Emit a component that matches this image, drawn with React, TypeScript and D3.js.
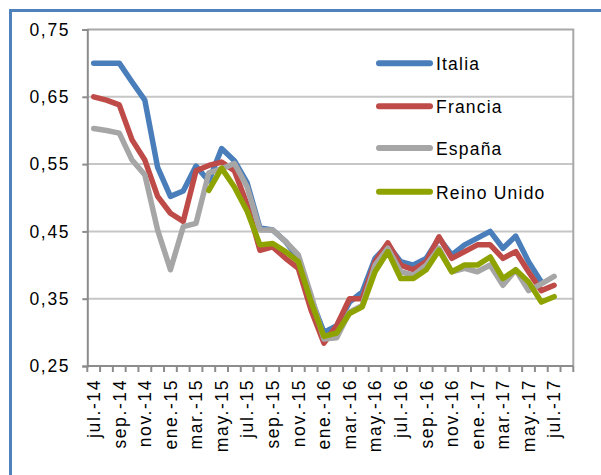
import React, { useEffect, useRef } from 'react'
import * as d3 from 'd3'

// months jul.-14 .. ago.-17 (last category is empty)
const months = [
  'jul.-14', 'ago.-14', 'sep.-14', 'oct.-14', 'nov.-14', 'dic.-14',
  'ene.-15', 'feb.-15', 'mar.-15', 'abr.-15', 'may.-15', 'jun.-15',
  'jul.-15', 'ago.-15', 'sep.-15', 'oct.-15', 'nov.-15', 'dic.-15',
  'ene.-16', 'feb.-16', 'mar.-16', 'abr.-16', 'may.-16', 'jun.-16',
  'jul.-16', 'ago.-16', 'sep.-16', 'oct.-16', 'nov.-16', 'dic.-16',
  'ene.-17', 'feb.-17', 'mar.-17', 'abr.-17', 'may.-17', 'jun.-17',
  'jul.-17', 'ago.-17',
]

const italia = [
  0.70, 0.70, 0.70, 0.672, 0.645, 0.545, 0.502, 0.51, 0.547, 0.525, 0.573, 0.555,
  0.522, 0.455, 0.452, 0.435, 0.41, 0.35, 0.30, 0.31, 0.345, 0.36,
  0.41, 0.43, 0.405, 0.40, 0.41, 0.44, 0.415, 0.43, 0.44, 0.45,
  0.425, 0.443, 0.405, 0.375, null, null,
]
const francia = [
  0.65, 0.645, 0.638, 0.586, 0.556, 0.502, 0.477, 0.465, 0.54, 0.548, 0.553, 0.54,
  0.49, 0.422, 0.427, 0.41, 0.395, 0.333, 0.284, 0.31, 0.35, 0.35,
  0.405, 0.433, 0.40, 0.393, 0.405, 0.442, 0.41, 0.42, 0.43, 0.43,
  0.41, 0.42, 0.39, 0.362, 0.37, null,
]
const espana = [
  0.603, 0.60, 0.596, 0.556, 0.534, 0.452, 0.393, 0.457, 0.462, 0.537, 0.543, 0.551,
  0.516, 0.452, 0.452, 0.435, 0.415, 0.355, 0.29, 0.292, 0.33, 0.34,
  0.40, 0.425, 0.39, 0.385, 0.40, 0.425, 0.39, 0.395, 0.39, 0.40,
  0.37, 0.393, 0.362, 0.372, 0.383, null,
]
const reinoUnido = [
  null, null, null, null, null, null, null, null, null, 0.511, 0.544, 0.516,
  0.48, 0.43, 0.432, 0.42, 0.405, 0.345, 0.294, 0.299, 0.328, 0.338,
  0.39, 0.42, 0.38, 0.38, 0.393, 0.422, 0.39, 0.40, 0.40, 0.412,
  0.38, 0.393, 0.375, 0.345, 0.353, null,
]

const seriesNames = ['Italia', 'Francia', 'España', 'Reino Unido']
const seriesColors = ['#4A7EBB', '#BE4B48', '#A6A6A6', '#8FA300']
const yTicks = [0.25, 0.35, 0.45, 0.55, 0.65, 0.75]

const App = () => {
  const ref = useRef<SVGSVGElement>(null)

  useEffect(() => {
    const svg = d3.select(ref.current)
    svg.selectAll('*').remove()

    const dims = { left: 87.3, right: 573.3, top: 29.5, bottom: 366 }
    const font = "'Liberation Sans', Arial, sans-serif"

    const x = d3.scaleBand().domain(months).range([dims.left, dims.right])
    const y = d3.scaleLinear().domain([0.25, 0.75]).range([dims.bottom, dims.top])
    const cx = (m: string) => (x(m) as number) + x.bandwidth() / 2

    // outer frame
    svg.append('rect')
      .attr('x', 10.5).attr('y', 10.5)
      .attr('width', 620).attr('height', 500)
      .attr('fill', 'white')
      .attr('stroke', '#4F81BD')
      .attr('stroke-width', 3)

    // gridlines
    svg.append('g')
      .selectAll('line')
      .data(yTicks.slice(1, -1))
      .join('line')
      .attr('x1', dims.left).attr('x2', dims.right)
      .attr('y1', d => y(d)).attr('y2', d => y(d))
      .attr('stroke', '#C6C6C6')
      .attr('stroke-width', 2)

    // plot border (top / right)
    svg.append('path')
      .attr('d', `M${dims.left},${dims.top}H${dims.right}V${dims.bottom}`)
      .attr('fill', 'none')
      .attr('stroke', '#A8A8A8')
      .attr('stroke-width', 2)

    // y axis
    const yAxis = svg.append('g')
      .attr('transform', `translate(${dims.left},0)`)
      .call(d3.axisLeft(y).tickValues(yTicks).tickSize(5).tickPadding(12)
        .tickFormat(d => d3.format('.2f')(d as number).replace('.', ',')))
    yAxis.select('.domain').attr('stroke', '#8C8C8C').attr('stroke-width', 2)
    yAxis.selectAll('.tick line').attr('stroke', '#8C8C8C').attr('stroke-width', 2)
    yAxis.selectAll('text')
      .attr('font-family', font)
      .attr('font-size', 17.5)
      .attr('letter-spacing', 1.7)
      .attr('fill', '#000')

    // x axis
    const xAxis = svg.append('g')
      .attr('transform', `translate(0,${dims.bottom})`)
    xAxis.append('line')
      .attr('x1', dims.left).attr('x2', dims.right)
      .attr('stroke', '#8C8C8C').attr('stroke-width', 2)
    const boundaries = months.map(m => x(m) as number).concat([dims.right])
    xAxis.selectAll('line.tk')
      .data(boundaries)
      .join('line')
      .attr('class', 'tk')
      .attr('x1', d => d).attr('x2', d => d)
      .attr('y1', 0).attr('y2', 6)
      .attr('stroke', '#8C8C8C').attr('stroke-width', 2)
    xAxis.selectAll('text')
      .data(months.filter((_, i) => i % 2 === 0))
      .join('text')
      .attr('transform', d => `translate(${cx(d)},13) rotate(-90)`)
      .attr('dy', '0.36em')
      .attr('text-anchor', 'end')
      .attr('font-family', font)
      .attr('font-size', 17.5)
      .attr('letter-spacing', 1.6)
      .text(d => d)

    // series
    const allSeries = [italia, francia, espana, reinoUnido]
    const line = d3.line<number | null>()
      .defined(d => d !== null)
      .x((_, i) => cx(months[i]))
      .y(d => y(d as number))

    allSeries.forEach((s, k) => {
      svg.append('path')
        .attr('d', line(s))
        .attr('fill', 'none')
        .attr('stroke', seriesColors[k])
        .attr('stroke-width', 5.5)
        .attr('stroke-linejoin', 'round')
        .attr('stroke-linecap', 'round')
    })

    // legend
    const legendY = [63.3, 106.3, 148, 191.7]
    const legend = svg.append('g')
    seriesNames.forEach((name, k) => {
      legend.append('line')
        .attr('x1', 379).attr('x2', 430)
        .attr('y1', legendY[k]).attr('y2', legendY[k])
        .attr('stroke', seriesColors[k])
        .attr('stroke-width', 6)
        .attr('stroke-linecap', 'round')
      legend.append('text')
        .attr('x', 436)
        .attr('y', legendY[k] + 7)
        .attr('font-family', font)
        .attr('font-size', 17.5)
        .attr('letter-spacing', 1.2)
        .text(name)
    })
  }, [])

  return (
    <svg
      ref={ref}
      width={601}
      height={475}
      style={{ position: 'absolute', left: 0, top: 0, display: 'block' }}
    />
  )
}

export default App
